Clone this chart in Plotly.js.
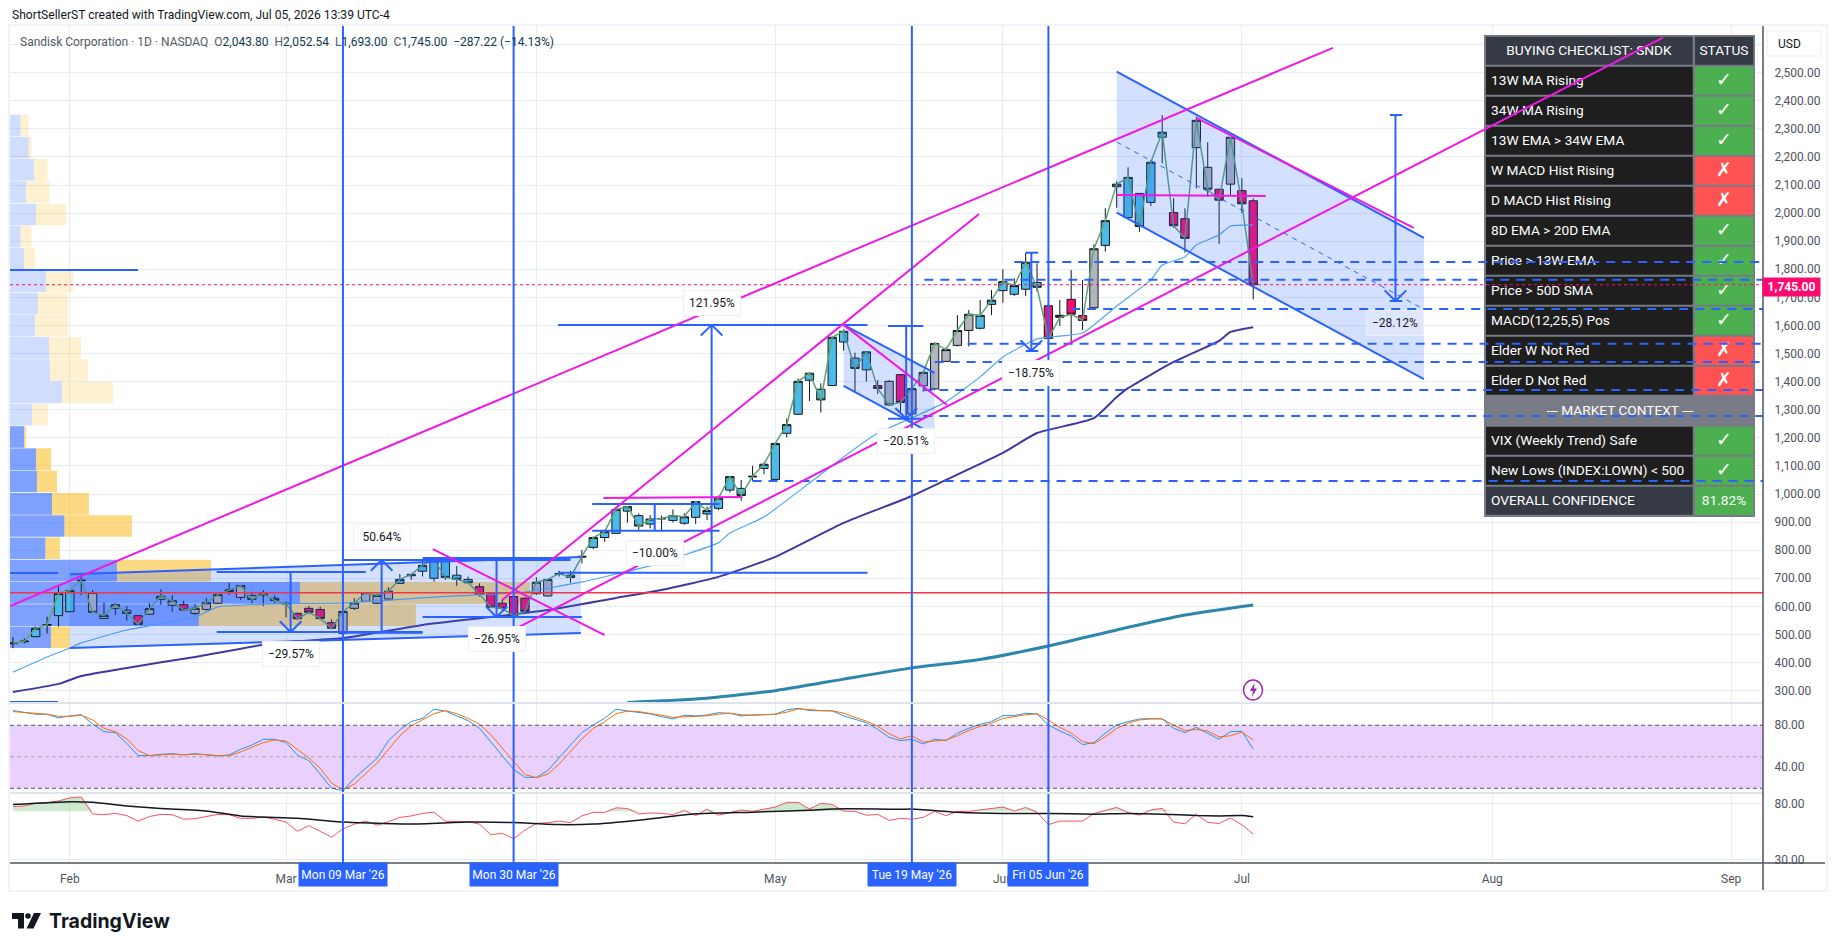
<!DOCTYPE html>
<html><head><meta charset="utf-8">
<script src="https://cdn.plot.ly/plotly-3.0.1.min.js"></script>
<style>html,body{margin:0;padding:0;background:#fff}#chart{width:1835px;height:951px}</style>
</head><body><div id="chart"></div>
<script>
// ---------- price data (daily bars, index 0 .. 109) ----------
const opens = [467,474,492,533,567,581,691,646,557,593,
586,567,572,625,604,606,575,589,611,653,
632,638,639,629,611,575,593,589,542,504,
593,618,611,626,682,709,725,700,767,711,
696,670,646,611,635,629,645,637,714,711,
775,810,845,860,939,923,893,911,906,896,
917,929,949,1014,1020,1061,1091,1052,1216,1284,
1405,1373,1386,1541,1484,1442,1386,1401,1425,1285,
1385,1374,1472,1529,1582,1590,1675,1724,1711,1729,
1753,1670,1636,1693,1635,1663,1885,2094,1984,2070,
2038,2270,2002,1980,2233,2163,2085,2103,2080,2043.8];
const highs = [490,486,528,563,670,658,715,658,614,611,
601,569,611,661,640,620,608,629,642,684,
676,652,658,640,617,578,601,599,554,582,
629,649,646,668,715,714,765,767,767,744,
706,682,652,625,640,632,703,696,727,727,
801,848,872,949,957,931,925,923,945,931,
975,955,994,1064,1050,1100,1112,1183,1269,1412,
1432,1394,1558,1586,1503,1507,1406,1406,1427,1375,
1438,1541,1522,1637,1655,1691,1726,1800,1768,1859,
1821,1670,1691,1797,1762,1889,2017,2113,2163,2070,
2189,2349,2053,2017,2343,2252,2085,2270,2124,2052.54];
const lows = [451,468,492,504,528,581,640,579,557,569,
549,536,572,605,581,585,569,585,608,641,
623,611,601,611,561,551,573,551,518,498,
587,617,608,620,680,694,706,688,694,673,
680,635,593,581,561,573,641,635,706,684,
753,803,830,860,898,872,878,872,899,890,
893,907,943,1005,976,1047,1071,1050,1202,1281,
1331,1290,1386,1510,1364,1400,1356,1313,1290,1278,
1364,1370,1470,1525,1525,1586,1637,1681,1705,1705,
1720,1554,1599,1533,1584,1661,1863,2019,1984,1933,
2025,2177,1948,1859,2088,2059,1890,2065,2000,1693];
const closes = [469,476,522,535,646,656,693,579,568,606,
575,536,592,636,620,587,593,613,642,659,
674,625,645,621,609,556,579,557,522,582,
612,649,639,654,696,714,746,767,703,696,
684,643,597,593,566,582,686,696,717,703,
778,845,866,945,955,886,911,913,923,919,
973,941,985,1062,995,1063,1106,1180,1247,1401,
1430,1335,1558,1579,1447,1506,1376,1317,1326,1375,
1433,1536,1514,1582,1640,1636,1690,1756,1742,1825,
1736,1554,1629,1640,1618,1873,1973,2103,2127,1952,
2181,2288,1955,1910,2330,2085,2046,2270,2033,1745];
const candleTones = "ccccccsssssrsssrsssssssssrrrrsssssccccccc"+"rrrrrss"+"cccccccccccccccccccccccccccc"+"rsrssssssccccccrrrrsccccccrrssrsrr";

// ---------- moving averages: sampled bars + values ----------
const sma200Bars = [54,60,67,73,79,85,91,97,103,109];
const sma200Vals = [258,270,300,341,381,411,459,516,569,605];
const sma100Bars = [0,4,6,10,16,23,29,36,42,47,53,57,62,67,73,79,82,87,90,95,97,98,102,106,107,109];
const sma100Vals = [295,324,352,381,420,470,487,534,562,587,630,658,705,776,897,993,1050,1146,1217,1270,1345,1377,1470,1545,1577,1594];
const sma50Bars = [0,3,5,6,10,16,18,23,29,37,45,50,56,59,62,63,66,70,73,76,79,82,85,87,90,94,97,100,101,103,104,106,107,109];
const sma50Vals = [366,420,452,470,516,562,598,609,612,633,651,687,744,783,826,861,918,1039,1132,1217,1271,1328,1417,1488,1552,1573,1669,1762,1815,1844,1887,1922,1954,1958];

// ---------- oscillators ----------
const stochK = [94,92,90.5,90.5,87,88.9,90.1,81.2,73.9,73,
62.8,51.1,51.1,52.3,53,51.7,53,51.7,50.8,51.7,
57.1,61.2,66.6,66.6,63.5,51.7,46.3,33.6,20,17.7,
29.5,39,48.5,65.4,75.5,83.5,86.6,95.2,93.6,88.9,
84.4,77.1,64.4,51.7,38.1,30.4,30.4,36.8,48.5,61.2,
73,80.3,86.6,95.2,93.6,92.4,90.8,88.2,86,89.5,
88.9,89.8,92,91.4,88.9,89.8,90.5,90.5,94.6,96.2,
94,94,93.6,88.9,85.7,82.5,76.2,68.5,65.4,66.6,
62.2,66.6,65.4,72.4,77.1,80.9,83.5,89.2,89.2,91.4,
90.8,80.3,74.6,69.8,61.6,63.5,72.4,80.3,83.5,86,
86.3,86,77.1,73,78,72.4,66.6,73.9,74.3,57.1];
const stochD = [93,92,91,90.5,88.5,88.5,89.5,85,77,74,
67,56,51,51.5,52.5,52,52.5,52,51,51,
54.5,59,63.5,66,65,57,49,39,25,18.5,
24,34,44,57,70,79.5,85,91,94,91,
86.5,81,71,58,45,33,30,33.5,43,55,
67,77,83.5,91,93.5,93,91.5,89.5,87.5,88,
88.5,89,90.5,91.5,90,89.5,90,90.5,92.5,95.5,
95,94,93.8,91.5,87.5,84,79,72,67,70,
64,65,66,70,75,79,82,86.5,88.5,90,
91,85,78,72.5,64.5,62.5,69,77,82,85,
86,86.2,80,75,76,74.5,69,70,73.5,66];
const rsiVals = [76,77,80.6,81.7,84,88.7,90,67,66,67.6,
65,59,64,66.4,66,61,61.6,64,66.4,66,
62,62,63.4,61,58,49.4,54.5,49.4,44.5,51.5,
56,59,55,58.4,63,64.6,67.6,69,59,58.4,
58.4,56,46.4,47.6,43.3,50.4,56.7,57.4,59,57.4,
64.6,68.8,68.8,74.5,73.6,67,68,67.6,66,71,
65,72.5,65.4,68.5,71.7,70,73,75.5,82,82,
73,80.6,79,70.4,70,65.4,66.4,59.8,62,61,
63,70,65,70,70,72,74,75.5,70.5,75,
69,55.5,59,59,59,67.5,71,75,68.5,65.5,
71.7,73.8,58,56.3,66.7,57.7,56.6,62.4,55.3,47];
const rsiMaBars = [0,5,7,10,13,17,20,25,29,35,40,44,48,51,55,60,65,70,72,76,78,79,83,87,91,95,98,101,104,106,108,109];
const rsiMaVals = [79,83,82.2,77,73.6,70.4,64.6,62,58,56,58,57.5,55.5,56,60,67,69,71.5,73,73,72.6,73,69,67.5,67.5,66.7,67.5,66.7,65,64.6,65,63.6];

// ---------- volume profile ----------
const vpPrices = [2312,2233,2154,2075,1995,1916,1837,1758,1678,1599,1520,1441,1362,1282,1203,1124,1045,965,886,807,727,648,569,490];
const vpBuy  = [0.93,1.63,2.11,1.41,2.29,0.93,1.23,3.16,2.46,2.2,3.43,3.52,4.57,1.93,1.23,2.29,2.37,3.69,4.79,3.12,9.41,25.49,16.6,3.6];
const vpSell = [0.69,0.27,1.19,2.05,2.64,0.97,0.97,2.37,2.64,2.9,2.81,3.34,4.48,1.41,0.18,1.32,1.76,3.25,5.93,1.27,8.26,20.2,19.07,1.67];

// ---------- axes ----------
const priceTicks = [300,400,500,600,700,800,900,1000,1100,1200,1300,1400,1500,1600,1700,1800,1900,2000,2100,2200,2300,2400,2500,2600];
const dateTickBars = [5,24,46,67,87,108,130,151];
const dateTickLabels = ["Feb","Mar","Apr","May","Jun","Jul","Aug","Sep"];
const markerBars = [29,44,79,91];
const markerLabels = ["Mon 09 Mar '26","Mon 30 Mar '26","Tue 19 May '26","Fri 05 Jun '26"];

// ---------- drawings (bar index, price) ----------
const trendLines = [[-0.26,601,116,2588],[43,623,84.9,1997],[43.3,502,145,2625],[36.9,804,52,498],
  [51.9,986,64.1,989.5],[73,1602,82.1,1317],[97,2064.6,110.1,2061],[104,2338.7,123.1,1947]];
const channels = [[5,714,49.9,776,5,452,49.9,505],[73,1602,81,1431,73,1385,81,1210],[97,2504,124,1912,97,2001.6,124,1409]];
const channelMid = [97,2253,123.8,1662];
const measures = [ // bar, top, bottom, direction, top cap, bottom cap, label, label price
  [24.4,722.5,509,-1,[17.9,31],[17.9,36],"−29.57%",430],
  [32.4,765,506,1,[28.9,49],[28.9,36],"50.64%",847],
  [42.5,772,562,-1,[36,49],[36,50],"−26.95%",484],
  [61.4,1602,720,1,[47.9,75.1],[47.9,75.1],"121.95%",1680],
  [56.4,964,869.5,0,[50.9,62.1],[50.9,62.1],"−10.00%",790],
  [78.5,1598,1268,-1,[76.9,80],[76.9,80],"−20.51%",1188],
  [89.5,1859,1509,-1,[89,90.1],[89,90.1],"−18.75%",1432],
  [121.5,2349,1687,-1,[121,122.1],[121,122.1],"−28.12%",1610]];
const dashedLevels = [[1826,88],[1763,80.1],[1658.8,93],[1534.5,83.9],[1470,81],[1370,80],[1277.8,80],[1046.4,65]];
const stubLines = [[-0.26,3.96,718.9],[-0.26,3.96,259.7],[-0.26,11,1797.6]];
const supportPrice = 648.8, lastPrice = 1745;

// ---------- checklist table ----------
const tableRows = ["13W MA Rising","34W MA Rising","13W EMA > 34W EMA","W MACD Hist Rising","D MACD Hist Rising","8D EMA > 20D EMA","Price > 13W EMA","Price > 50D SMA","MACD(12,25,5) Pos","Elder W Not Red","Elder D Not Red"];
const tableStatus = [1,1,1,0,0,1,1,1,1,0,0];
const contextRows = ["VIX (Weekly Trend) Safe","New Lows (INDEX:LOWN) < 500"];

// ---------- pixel frame ----------
const L=10,R=1825,T=26,B=890,AX=1763,MB=703,RB=793,SB=863;
const xpx = p => (p-L)/(R-L), ypx = p => (B-p)/(B-T);
const X0=-0.26, X1=153.8, PR=[256,2666];
const bar = px => X0+(px-L)/(AX-L)*(X1-X0);
const pr = py => PR[1]-(py-T)/(MB-T)*(PR[1]-PR[0]);
const lg = Math.log10;

const bars = closes.map((_,i)=>i);
const tones = {c:"#4dbbe9",r:"#ff0a6e",s:"#b2b5be"};
const candleDark="#131722";
const traces=[];
// volume profile
const isStrong = vpPrices.map(p=>p<1250);
traces.push({type:'bar',orientation:'h',y:vpPrices,x:vpBuy,base:vpBuy.map(()=>X0),width:77,
  marker:{color:isStrong.map(s=>s?'rgba(41,98,255,0.6)':'rgba(41,98,255,0.22)'),line:{width:0}},xaxis:'x',yaxis:'y'});
traces.push({type:'bar',orientation:'h',y:vpPrices,x:vpSell,base:vpBuy.map(b=>X0+b),width:77,
  marker:{color:isStrong.map(s=>s?'rgba(251,192,45,0.6)':'rgba(251,192,45,0.22)'),line:{width:0}},xaxis:'x',yaxis:'y'});
// MA lines
traces.push({type:'scatter',mode:'lines',x:sma200Bars,y:sma200Vals,line:{color:'#2e86ab',width:3,shape:'spline',smoothing:0.6},xaxis:'x',yaxis:'y'});
traces.push({type:'scatter',mode:'lines',x:sma100Bars,y:sma100Vals,line:{color:'#3f3a9e',width:2,shape:'spline',smoothing:0.5},xaxis:'x',yaxis:'y'});
traces.push({type:'scatter',mode:'lines',x:sma50Bars,y:sma50Vals,line:{color:'#4ea8f0',width:1.2,shape:'spline',smoothing:0.4},xaxis:'x',yaxis:'y'});
traces.push({type:'scatter',mode:'lines',x:bars,y:closes,line:{color:'#5da66f',width:1.5},xaxis:'x',yaxis:'y'});
// candles by tone
Object.keys(tones).forEach(k=>{
  const idx=bars.filter(i=>candleTones[i]===k);
  const style={line:{color:candleDark,width:1},fillcolor:tones[k]};
  traces.push({type:'candlestick',x:idx,open:idx.map(i=>opens[i]),high:idx.map(i=>highs[i]),low:idx.map(i=>lows[i]),close:idx.map(i=>closes[i]),
    increasing:style,decreasing:style,whiskerwidth:0,xaxis:'x',yaxis:'y',line:{width:1}});
});
// table text
const rowTop=i=>36+30*i;
const rowMid=i=>rowTop(i)+15.5;
const textLeftX=[],textLeftY=[],textLeft=[];
tableRows.forEach((t,i)=>{textLeftX.push(bar(1491));textLeftY.push(pr(rowMid(i+1)));textLeft.push(t);});
contextRows.forEach((t,i)=>{textLeftX.push(bar(1491));textLeftY.push(pr(rowMid(i+13)));textLeft.push(t);});
textLeftX.push(bar(1491));textLeftY.push(pr(rowMid(15)));textLeft.push("OVERALL CONFIDENCE");
traces.push({type:'scatter',mode:'text',x:textLeftX,y:textLeftY,text:textLeft,textposition:'middle right',cliponaxis:false,
  textfont:{family:'Roboto, sans-serif',size:13.7,color:'#ffffff'},xaxis:'x',yaxis:'y'});
const cX=[],cY=[],cT=[];
cX.push(bar(1589));cY.push(pr(rowMid(0)));cT.push("BUYING CHECKLIST: SNDK");
cX.push(bar(1724));cY.push(pr(rowMid(0)));cT.push("STATUS");
cX.push(bar(1620));cY.push(pr(rowMid(12)));cT.push("--- MARKET CONTEXT ---");
cX.push(bar(1724));cY.push(pr(rowMid(15)));cT.push("81.82%");
traces.push({type:'scatter',mode:'text',x:cX,y:cY,text:cT,textposition:'middle center',cliponaxis:false,
  textfont:{family:'Roboto, sans-serif',size:13.7,color:'#ffffff'},xaxis:'x',yaxis:'y'});
const mX=[],mY=[],mT=[];
tableStatus.forEach((s,i)=>{mX.push(bar(1724));mY.push(pr(rowMid(i+1)));mT.push(s?"<b>✓</b>":"<b>✗</b>");});
contextRows.forEach((t,i)=>{mX.push(bar(1724));mY.push(pr(rowMid(i+13)));mT.push("<b>✓</b>");});
traces.push({type:'scatter',mode:'text',x:mX,y:mY,text:mT,textposition:'middle center',cliponaxis:false,
  textfont:{family:'"DejaVu Sans", sans-serif',size:19,color:'#ffffff'},xaxis:'x',yaxis:'y'});
// stochastic
traces.push({type:'scatter',mode:'lines',x:bars,y:stochK,line:{color:'#2196f3',width:1},xaxis:'x',yaxis:'y2'});
traces.push({type:'scatter',mode:'lines',x:bars,y:stochD,line:{color:'#ff6d00',width:1},xaxis:'x',yaxis:'y2'});
// rsi
traces.push({type:'scatter',mode:'lines',x:bars,y:bars.map(()=>70),line:{width:0,color:'rgba(0,0,0,0)'},xaxis:'x',yaxis:'y3'});
traces.push({type:'scatter',mode:'lines',x:bars,y:rsiVals.map(v=>Math.max(v,70)),fill:'tonexty',fillcolor:'rgba(76,175,80,0.28)',line:{width:0,color:'rgba(0,0,0,0)'},xaxis:'x',yaxis:'y3'});
traces.push({type:'scatter',mode:'lines',x:bars,y:rsiVals,line:{color:'#f7525f',width:1},xaxis:'x',yaxis:'y3'});
traces.push({type:'scatter',mode:'lines',x:rsiMaBars,y:rsiMaVals,line:{color:'#131722',width:1.5,shape:'spline',smoothing:0.5},xaxis:'x',yaxis:'y3'});

// ---------- shapes ----------
const shapes=[];
const pxRect=(x0,y0,x1,y1,fill,extra)=>Object.assign({type:'rect',xref:'paper',yref:'paper',x0:xpx(x0),x1:xpx(x1),y0:ypx(y0),y1:ypx(y1),fillcolor:fill,line:{width:0},layer:'below'},extra||{});
const pxLine=(x0,y0,x1,y1,color,w)=>({type:'line',xref:'paper',yref:'paper',x0:xpx(x0),x1:xpx(x1),y0:ypx(y0),y1:ypx(y1),line:{color:color,width:w},layer:'above'});
const dataRect=(px0,py0,px1,py1,fill)=>({type:'rect',xref:'x',yref:'y',x0:bar(px0),x1:bar(px1),y0:pr(py0),y1:pr(py1),fillcolor:fill,line:{width:0},layer:'between'});
// table
const GREEN='#4caf50',REDC='#ff5252',DARK='#1e1e1e',HEAD='#363a45',GREY='#787b86';
shapes.push(dataRect(1484,35,1755,517,GREY));
const cells=(i,c1,c2)=>{shapes.push(dataRect(1486,rowTop(i)+0.8,1692.7,rowTop(i)+28.8,c1));shapes.push(dataRect(1695,rowTop(i)+0.8,1753.3,rowTop(i)+28.8,c2));};
cells(0,HEAD,HEAD);
tableStatus.forEach((s,i)=>cells(i+1,DARK,s?GREEN:REDC));
contextRows.forEach((t,i)=>cells(i+13,DARK,GREEN));
cells(15,HEAD,GREEN);
// oscillator backgrounds
shapes.push({type:'rect',xref:'x',yref:'y2',x0:X0,x1:X1,y0:20,y1:80,fillcolor:'#e9d0fd',line:{width:0},layer:'between'});
shapes.push({type:'rect',xref:'x',yref:'y3',x0:X0,x1:X1,y0:lg(30),y1:lg(70),fillcolor:'#f1edf9',line:{width:0},layer:'between'});
[[80,'#555'],[50,'#a5a5a5'],[20,'#555']].forEach(a=>shapes.push({type:'line',xref:'x',yref:'y2',x0:X0,x1:X1,y0:a[0],y1:a[0],line:{color:a[1],width:1,dash:'4px,3px'},layer:'above'}));
[[70,'#555'],[50,'#a5a5a5'],[30,'#555']].forEach(a=>shapes.push({type:'line',xref:'x',yref:'y3',x0:X0,x1:X1,y0:lg(a[0]),y1:lg(a[0]),line:{color:a[1],width:1,dash:'4px,3px'},layer:'above'}));
// channels
const BLUE='#2962ff',MAG='#ef18e6';
const dl=(x0,y0,x1,y1,color,w,dash)=>({type:'line',xref:'x',yref:'y',x0:x0,x1:x1,y0:y0,y1:y1,line:{color:color,width:w,dash:dash||'solid'},layer:'above'});
channels.forEach(c=>{
  shapes.push({type:'path',xref:'x',yref:'y',path:`M${c[0]},${c[1]} L${c[2]},${c[3]} L${c[6]},${c[7]} L${c[4]},${c[5]} Z`,fillcolor:'rgba(41,98,255,0.2)',line:{width:0},layer:'above'});
  shapes.push(dl(c[0],c[1],c[2],c[3],BLUE,2));
  shapes.push(dl(c[4],c[5],c[6],c[7],BLUE,2));
});
shapes.push(dl(channelMid[0],channelMid[1],channelMid[2],channelMid[3],BLUE,1,'5px,5px'));
// levels
shapes.push(dl(X0,supportPrice,X1,supportPrice,'#f23645',1.5));
shapes.push(dl(X0,lastPrice,X1,lastPrice,'#ff0a6e',1,'dot'));
dashedLevels.forEach(d=>shapes.push(dl(d[1],d[0],X1,d[0],BLUE,2,'9px,7px')));
stubLines.forEach(s=>shapes.push(dl(s[0],s[2],s[1],s[2],BLUE,2)));
// measures
const anns=[];
measures.forEach(m=>{
  const [x,top,bot,dir,tc,bc,label,lp]=m;
  shapes.push(dl(tc[0],top,tc[1],top,BLUE,2));
  shapes.push(dl(bc[0],bot,bc[1],bot,BLUE,2));
  shapes.push(dl(x,top,x,bot,BLUE,2));
  if(dir){const tip=dir>0?top:bot;const back=dir>0?tip-38:tip+38;
    shapes.push(dl(x-0.95,back,x,tip,BLUE,2));shapes.push(dl(x+0.95,back,x,tip,BLUE,2));}
  anns.push({xref:'x',yref:'y',x:x,y:lp,xanchor:'center',yanchor:'middle',text:label,showarrow:false,font:{family:'Roboto, sans-serif',size:12,color:'#131722'},
    bgcolor:label==="−28.12%"?'#dde6fb':'#ffffff',bordercolor:'#eef0f4',borderwidth:1,width:54,height:22});
});
// trend lines
trendLines.forEach(t=>shapes.push(dl(t[0],t[1],t[2],t[3],MAG,2)));
// vertical markers
markerBars.forEach(b=>shapes.push({type:'line',xref:'x',yref:'paper',x0:b,x1:b,y0:ypx(SB),y1:1,line:{color:BLUE,width:2},layer:'above'}));
markerBars.forEach((b,i)=>anns.push({xref:'x',yref:'paper',x:b,y:ypx(874.5),xanchor:'center',yanchor:'middle',text:markerLabels[i],showarrow:false,bgcolor:BLUE,width:i===3?80:88,height:23,
  font:{family:'Roboto, sans-serif',size:12,color:'#ffffff'},borderpad:0}));
// frame, separators, axis lines
shapes.push(pxRect(9,25,1827,891,'rgba(0,0,0,0)',{line:{color:'#f0f3fa',width:2},layer:'above'}));
shapes.push(pxLine(L,MB,AX,MB,'#e0e3eb',2));
shapes.push(pxLine(L,RB,AX,RB,'#e0e3eb',2));
shapes.push(pxLine(L,SB,R,SB,'#50535e',1.5));
shapes.push(pxLine(AX,T,AX,B,'#50535e',1.5));
// USD box
shapes.push(pxRect(1767,31,1821,56,'#ffffff',{line:{color:'#f0f3fa',width:1.5},layer:'above'}));
anns.push({xref:'paper',yref:'paper',x:xpx(1776),y:ypx(44),xanchor:'left',yanchor:'middle',text:'USD',showarrow:false,font:{family:'Roboto, sans-serif',size:12,color:'#131722'}});
// last price tag
anns.push({xref:'paper',yref:'paper',x:xpx(1791.5),y:ypx(286.5),xanchor:'center',yanchor:'middle',text:'<b>1,745.00</b>',showarrow:false,width:55,height:16,bgcolor:'#ff0a6e',font:{family:'Roboto, sans-serif',size:12,color:'#fff'}});
// lightning
shapes.push({type:'circle',xref:'paper',yref:'paper',x0:xpx(1243.5),x1:xpx(1262.5),y0:ypx(680),y1:ypx(700),fillcolor:'#fff',line:{color:'#9c27b0',width:1.5},layer:'above'});
const pathPx=pts=>'M'+pts.map(p=>xpx(p[0])+','+ypx(p[1])).join(' L')+' Z';
shapes.push({type:'path',xref:'paper',yref:'paper',path:pathPx([[1254.5,683],[1250,691],[1253,691],[1252,697],[1257,688.5],[1254,688.5]]),fillcolor:'#9c27b0',line:{width:0},layer:'above'});
// logo
shapes.push({type:'path',xref:'paper',yref:'paper',path:pathPx([[12,913],[24,913],[24,928.5],[18,928.5],[18,919],[12,919]]),fillcolor:'#131722',line:{width:0},layer:'above'});
shapes.push({type:'circle',xref:'paper',yref:'paper',x0:xpx(25.2),x1:xpx(30.8),y0:ypx(913.2),y1:ypx(918.8),fillcolor:'#131722',line:{width:0},layer:'above'});
shapes.push({type:'path',xref:'paper',yref:'paper',path:pathPx([[34,913],[41,913],[33.5,928.5],[26.5,928.5]]),fillcolor:'#131722',line:{width:0},layer:'above'});
anns.push({xref:'paper',yref:'paper',x:xpx(47),y:ypx(921.5),xanchor:'left',yanchor:'middle',text:'<b>TradingView</b>',showarrow:false,font:{family:'Inter, Roboto, sans-serif',size:19.5,color:'#131722'}});
// header & legend
anns.push({xref:'paper',yref:'paper',x:xpx(9.5),y:ypx(15),xanchor:'left',yanchor:'middle',text:'ShortSellerST created with TradingView.com, Jul 05, 2026 13:39 UTC-4',showarrow:false,font:{family:'Roboto, sans-serif',size:12.1,color:'#131722'}});
const val=s=>`<span style="color:#0f3d4f">${s}</span>`;
anns.push({xref:'paper',yref:'paper',x:xpx(18),y:ypx(42),xanchor:'left',yanchor:'middle',showarrow:false,font:{family:'Roboto, sans-serif',size:12,color:'#555a66'},
  text:`Sandisk Corporation · 1D · NASDAQ  O${val('2,043.80')}  H${val('2,052.54')}  L${val('1,693.00')}  C${val('1,745.00')}  ${val('−287.22 (−14.13%)')}`});

const gridC='#e6edf5';
const tickF={family:'Roboto, sans-serif',size:12,color:'#50535e'};
const yBase={side:'right',anchor:'x',gridcolor:gridC,gridwidth:1,zeroline:false,showline:false,ticks:'outside',ticklen:8,tickcolor:'rgba(0,0,0,0)',tickfont:tickF,fixedrange:true,tickmode:'array'};
const layout={
  width:1835,height:951,autosize:false,showlegend:false,hovermode:false,
  margin:{l:L,r:1835-R,t:T,b:951-B,pad:0},
  paper_bgcolor:'#ffffff',plot_bgcolor:'#ffffff',
  barmode:'overlay',boxmode:'overlay',boxgap:0.27,boxgroupgap:0,
  xaxis:{domain:[0,xpx(AX)],range:[X0,X1],anchor:'y3',type:'linear',tickmode:'array',tickvals:dateTickBars,ticktext:dateTickLabels,
    gridcolor:gridC,gridwidth:1,zeroline:false,showline:false,ticks:'outside',ticklen:5,tickcolor:'rgba(0,0,0,0)',tickfont:tickF,fixedrange:true,rangeslider:{visible:false}},
  yaxis:Object.assign({},yBase,{domain:[ypx(MB),1],range:PR,tickvals:priceTicks,ticktext:priceTicks.map(p=>p>2500?'':p.toLocaleString('en-US',{minimumFractionDigits:2,maximumFractionDigits:2}))}),
  yaxis2:Object.assign({},yBase,{domain:[ypx(RB),ypx(MB)],range:[15.5,101.2],tickvals:[40,80],ticktext:['40.00','80.00']}),
  yaxis3:Object.assign({},yBase,{domain:[ypx(SB),ypx(RB)],type:'log',range:[1.452,1.985],tickvals:[30,80],ticktext:['30.00','80.00']}),
  shapes:shapes,annotations:anns
};
Plotly.newPlot('chart',traces,layout,{displayModeBar:false,staticPlot:true});
</script></body></html>
